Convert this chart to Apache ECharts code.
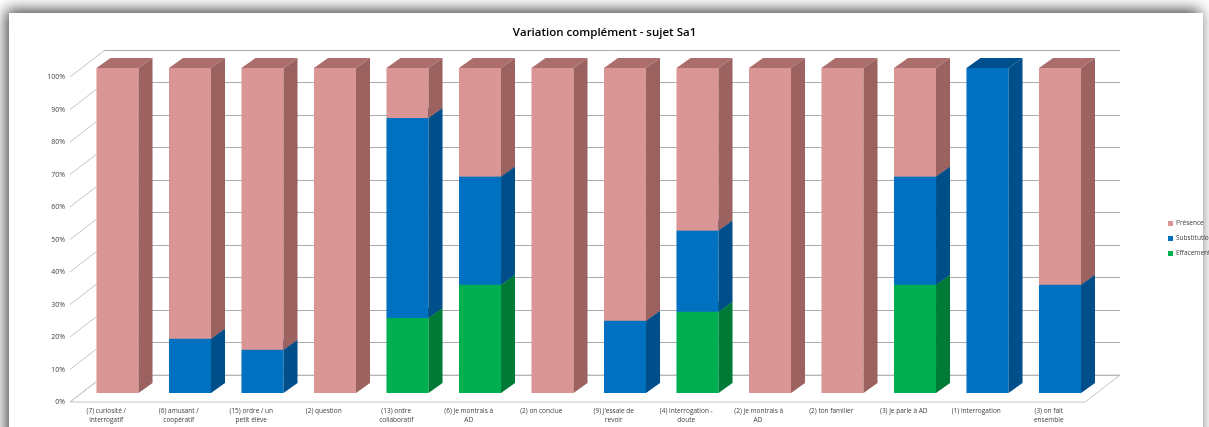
<!DOCTYPE html>
<html>
<head>
<meta charset="utf-8">
<script src="https://cdn.jsdelivr.net/npm/echarts@6/dist/echarts.min.js"></script>
<style>
  html, body { margin: 0; padding: 0; background: #fff; }
  #chart { width: 1209px; height: 427px; }
</style>
</head>
<body>
<div id="chart"></div>
<script>
// categories (number of occurrences in brackets)
const categories = [
  '(7) curiosité /\ninterrogatif',
  '(6) amusant /\ncoopératif',
  '(15) ordre / un\npetit élève',
  '(2) question',
  '(13) ordre\ncollaboratif',
  '(6) je montrais à\nAD',
  '(2) on conclue',
  "(9) j'essaie de\nrevoir",
  '(4) interrogation -\ndoute',
  '(2) je montrais à\nAD ',
  '(2) ton familier',
  '(3) je parle à AD',
  '(1) interrogation',
  '(3) on fait\nensemble'
]
// values in %
const effacement = [0, 0, 0, 0, 23.1, 33.3, 0, 0, 25, 0, 0, 33.3, 0, 0]
const substitution = [0, 16.7, 13.3, 0, 61.5, 33.3, 0, 22.2, 25, 0, 0, 33.3, 100, 33.3]
const presence = [100, 83.3, 86.7, 100, 15.4, 33.4, 100, 77.8, 50, 100, 100, 33.4, 0, 66.7]
const yTicks = [0, 10, 20, 30, 40, 50, 60, 70, 80, 90, 100]

// colours: front, side, top
const colPresence = ['#D99694', '#9B6260', '#AB6E6C']
const colSubst = ['#0070C0', '#004F8A', '#00508E']
const colEffac = ['#00B050', '#007A37', '#00853C']

// depth of the bars, and of the back wall
const barDx = 14
const barDy = -10
const wallDx = 35
const wallDy = -27

const chart = echarts.init(document.getElementById('chart'))

function stackData(values, bases) {
  return values.map((v, i) => [i, bases[i], bases[i] + v])
}
const base0 = categories.map(() => 0)
const base1 = effacement.map((v, i) => v)
const base2 = effacement.map((v, i) => v + substitution[i])

function barItem(colors) {
  return function(params, api) {
    const y0 = api.value(1)
    const y1 = api.value(2)
    if (y1 - y0 <= 0) return
    const i = api.value(0)
    const p0 = api.coord([i, y0])
    const p1 = api.coord([i, y1])
    const bw = api.size([1, 0])[0] * 0.58
    const x = p0[0] - bw / 2
    return {
      type: 'group',
      children: [
        {
          type: 'rect',
          shape: { x: x, y: p1[1], width: bw, height: p0[1] - p1[1] },
          style: { fill: colors[0] }
        },
        {
          type: 'polygon',
          shape: { points: [[x + bw, p0[1]], [x + bw + barDx, p0[1] + barDy], [x + bw + barDx, p1[1] + barDy], [x + bw, p1[1]]] },
          style: { fill: colors[1] }
        },
        {
          type: 'polygon',
          shape: { points: [[x, p1[1]], [x + bw, p1[1]], [x + bw + barDx, p1[1] + barDy], [x + barDx, p1[1] + barDy]] },
          style: { fill: colors[2] }
        }
      ]
    }
  }
}

const labelFont = 'Open Sans'

chart.setOption({
  backgroundColor: '#fff',
  animation: false,
  textStyle: { fontFamily: labelFont },
  title: {
    text: 'Variation complément - sujet Sa1',
    left: 'center',
    top: 22,
    textStyle: { fontSize: 11.5, fontWeight: 600, color: '#000', fontFamily: labelFont }
  },
  graphic: [{
    type: 'rect',
    z: -10,
    shape: { x: 9, y: 13, width: 1194, height: 460 },
    style: { fill: '#fff', shadowBlur: 14, shadowColor: 'rgba(0,0,0,0.75)', shadowOffsetX: -3, shadowOffsetY: -3 }
  }],
  legend: {
    orient: 'vertical',
    left: 1163,
    top: 215,
    icon: 'rect',
    itemWidth: 5,
    itemHeight: 5,
    itemGap: 8,
    textStyle: { fontSize: 6.5, color: '#404040', padding: [0, 0, 0, -2] },
    data: ['Présence', 'Substitution', 'Effacement']
  },
  grid: [
    // bars plane
    { left: 81.25, width: 1015, top: 68, bottom: 34 },
    // back wall
    { left: 105, width: 1015, top: 50, bottom: 52 },
    // front plane (labels, floor)
    { left: 70, width: 1015, top: 77, bottom: 25 }
  ],
  xAxis: [
    { gridIndex: 0, type: 'category', data: categories, show: false },
    { gridIndex: 1, type: 'category', data: categories, show: false },
    {
      gridIndex: 2,
      type: 'category',
      data: categories,
      axisLine: { show: false },
      axisTick: { show: false },
      axisLabel: { fontSize: 6.5, lineHeight: 9, color: '#404040', margin: 5, interval: 0 }
    }
  ],
  yAxis: [
    { gridIndex: 0, type: 'value', min: 0, max: 100, interval: 10, show: false },
    {
      gridIndex: 1,
      type: 'value',
      min: 0,
      max: 100,
      interval: 10,
      axisLine: { show: false },
      axisTick: { show: false },
      axisLabel: { show: false },
      splitLine: { lineStyle: { color: '#ABABAB', width: 1 } }
    },
    {
      gridIndex: 2,
      type: 'value',
      min: 0,
      max: 100,
      interval: 10,
      axisLine: { show: false },
      axisTick: { show: false },
      splitLine: { show: false },
      axisLabel: { fontSize: 7, color: '#404040', margin: 5, formatter: '{value}%' }
    }
  ],
  series: [
    {
      // floor
      type: 'custom',
      xAxisIndex: 2,
      yAxisIndex: 2,
      silent: true,
      z: 1,
      data: [[0, 0]],
      renderItem: function(params, api) {
        const half = api.size([1, 0])[0] / 2
        const a = api.coord([0, 0])
        const b = api.coord([categories.length - 1, 0])
        const l = a[0] - half
        const r = b[0] + half
        const y = a[1]
        return {
          type: 'polygon',
          shape: { points: [[l, y], [r, y], [r + wallDx, y + wallDy], [l + wallDx, y + wallDy]] },
          style: { fill: 'none', stroke: '#C4C4C4', lineWidth: 1 }
        }
      }
    },
    {
      // left wall lines
      type: 'custom',
      xAxisIndex: 2,
      yAxisIndex: 2,
      silent: true,
      z: 1,
      data: yTicks.map(v => [0, v]),
      renderItem: function(params, api) {
        const half = api.size([1, 0])[0] / 2
        const p = api.coord([0, api.value(1)])
        const l = p[0] - half
        return {
          type: 'line',
          shape: { x1: l, y1: p[1], x2: l + wallDx, y2: p[1] + wallDy },
          style: { stroke: '#C4C4C4', lineWidth: 1 }
        }
      }
    },
    {
      name: 'Effacement',
      type: 'custom',
      xAxisIndex: 0,
      yAxisIndex: 0,
      itemStyle: { color: colEffac[0] },
      encode: { x: 0, y: [1, 2] },
      data: stackData(effacement, base0),
      renderItem: barItem(colEffac)
    },
    {
      name: 'Substitution',
      type: 'custom',
      xAxisIndex: 0,
      yAxisIndex: 0,
      itemStyle: { color: colSubst[0] },
      encode: { x: 0, y: [1, 2] },
      data: stackData(substitution, base1),
      renderItem: barItem(colSubst)
    },
    {
      name: 'Présence',
      type: 'custom',
      xAxisIndex: 0,
      yAxisIndex: 0,
      itemStyle: { color: colPresence[0] },
      encode: { x: 0, y: [1, 2] },
      data: stackData(presence, base2),
      renderItem: barItem(colPresence)
    }
  ]
})
</script>
</body>
</html>
